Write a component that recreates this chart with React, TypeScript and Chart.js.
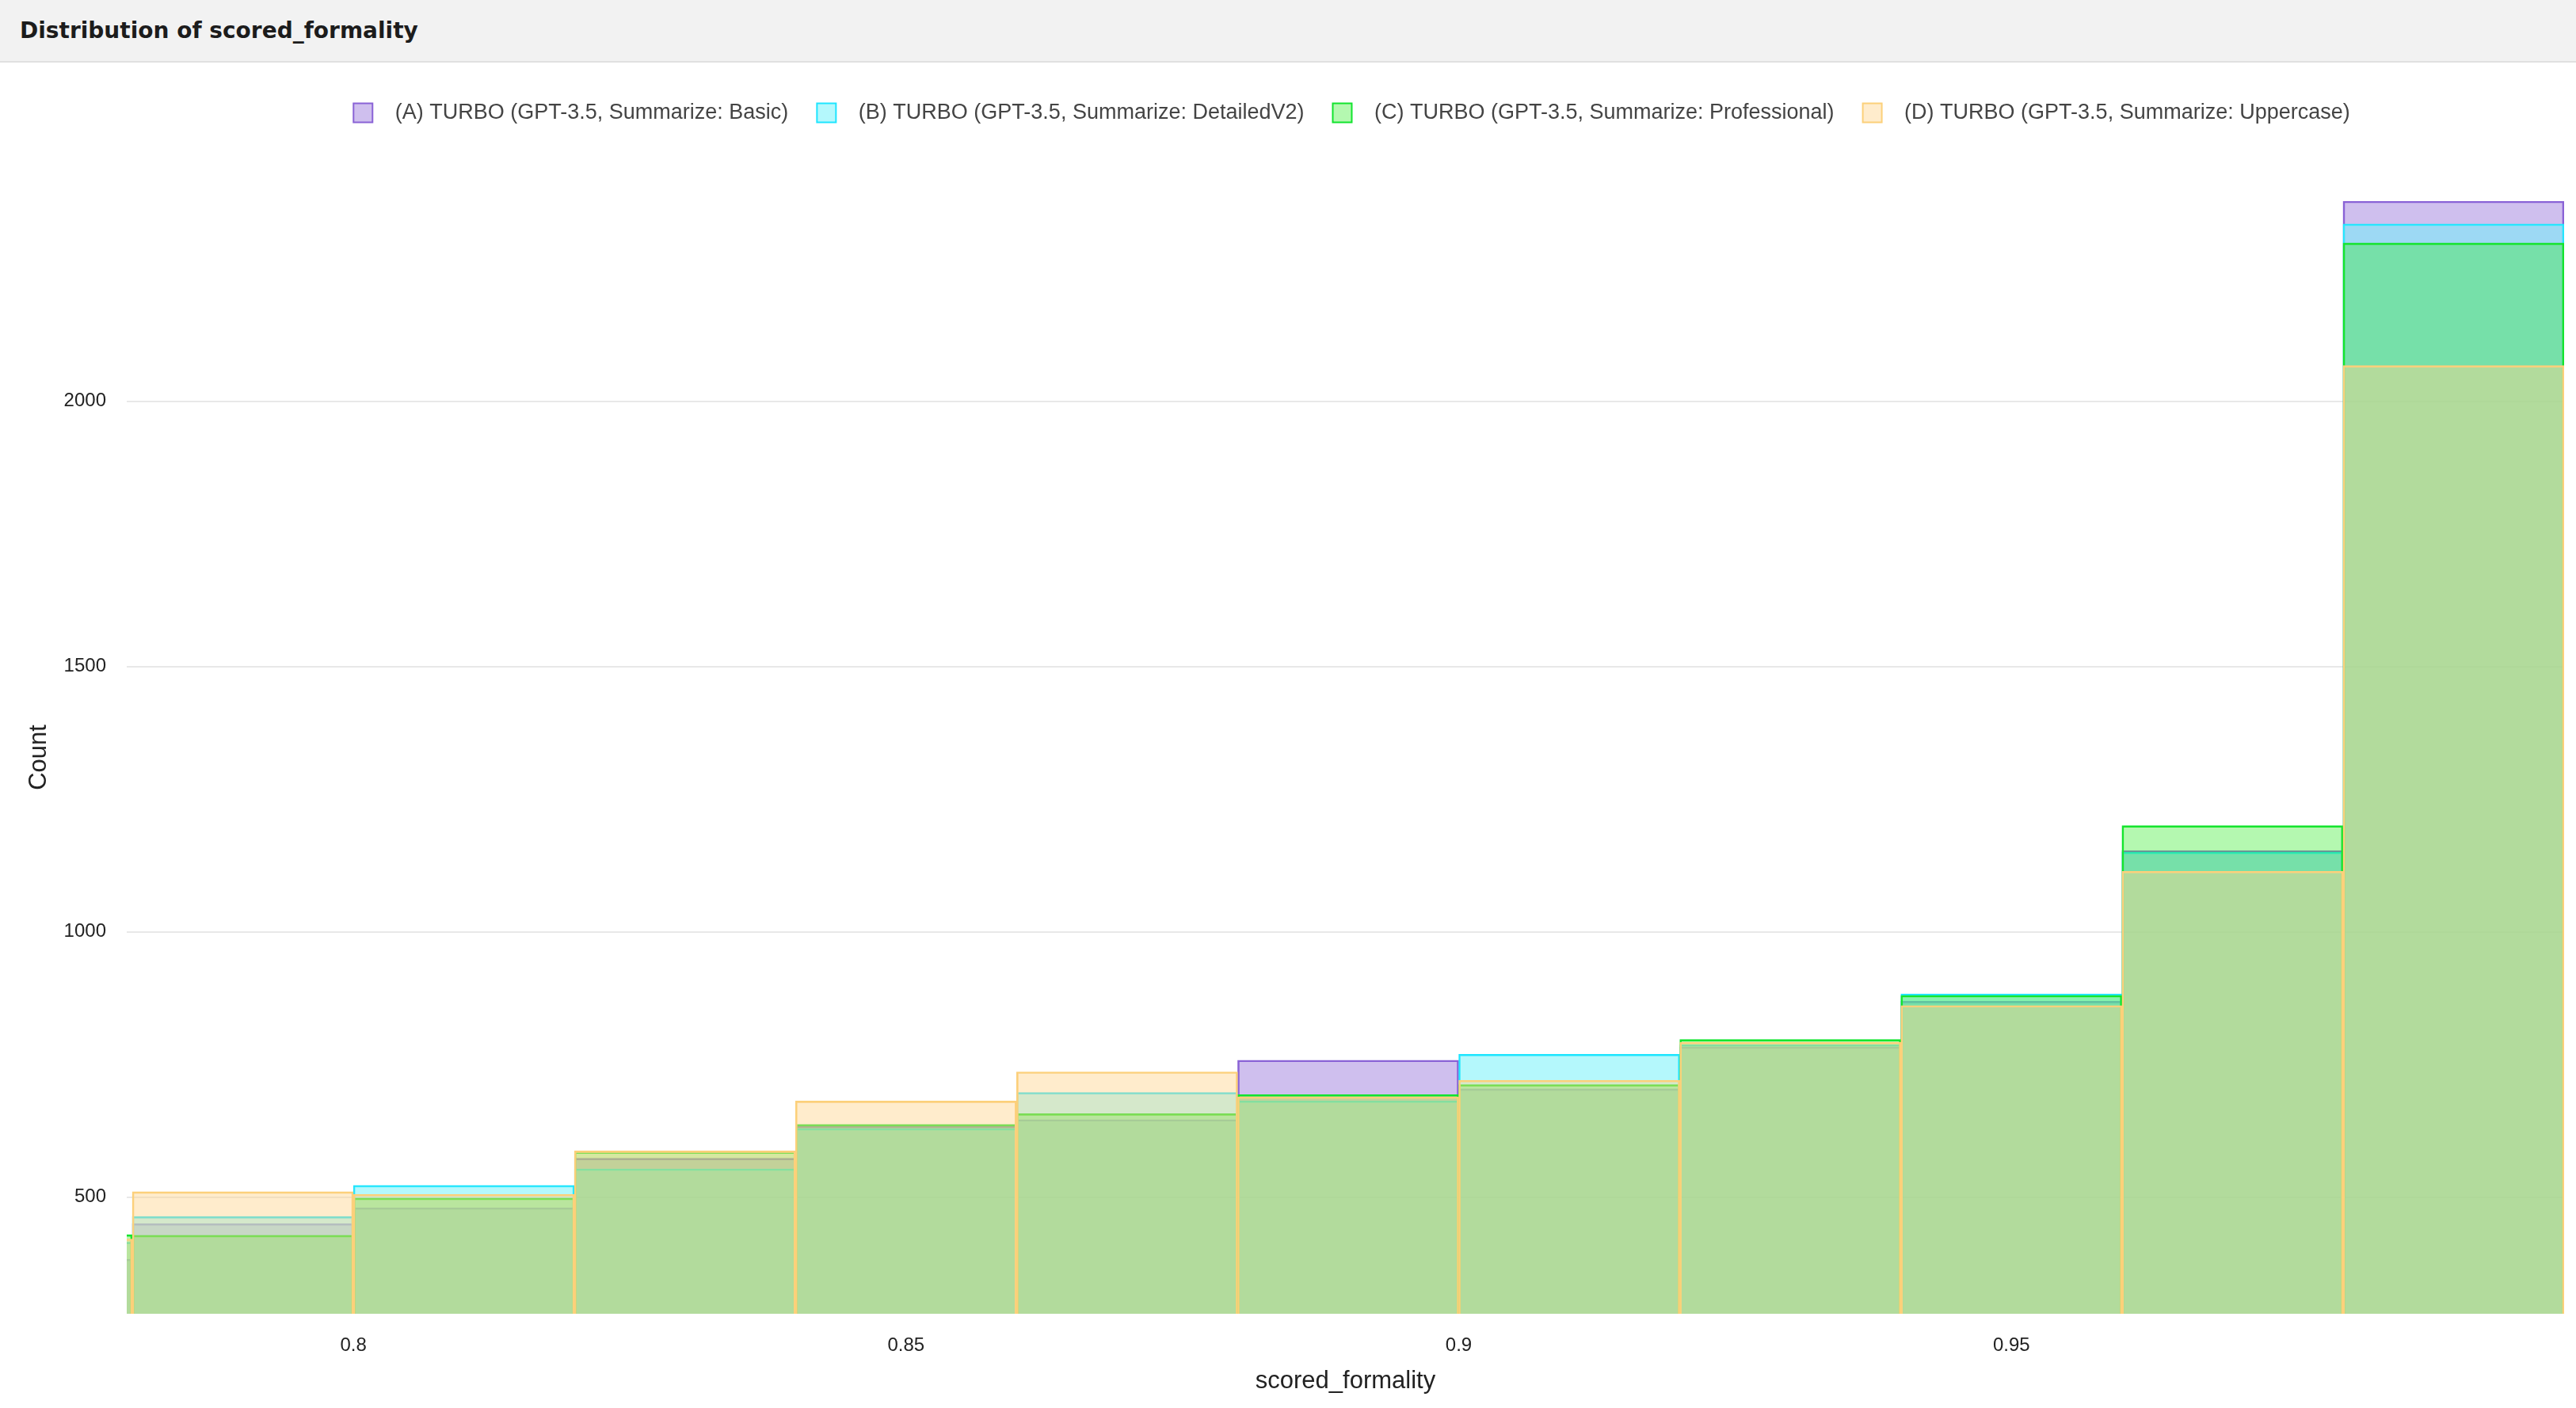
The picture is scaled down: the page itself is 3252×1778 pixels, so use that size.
import { useEffect, useRef } from 'react'
import { Chart, registerables } from 'chart.js'

Chart.register(...registerables)

// bin centres of the 0.02-wide histogram bins
const binCenters = [0.77, 0.79, 0.81, 0.83, 0.85, 0.87, 0.89, 0.91, 0.93, 0.95, 0.97, 0.99]

const basicCounts = [383, 450, 480, 573, 634, 646, 758, 704, 783, 869, 1153, 2377]
const detailedCounts = [415, 463, 522, 553, 629, 697, 681, 769, 787, 883, 1150, 2334]
const professionalCounts = [429, 428, 498, 585, 637, 657, 693, 712, 797, 880, 1200, 2298]
const uppercaseCounts = [421, 510, 505, 587, 681, 736, 689, 720, 792, 861, 1114, 2067]

const seriesLabels = [
  '(A) TURBO (GPT-3.5, Summarize: Basic)',
  '(B) TURBO (GPT-3.5, Summarize: DetailedV2)',
  '(C) TURBO (GPT-3.5, Summarize: Professional)',
  '(D) TURBO (GPT-3.5, Summarize: Uppercase)',
]

const xTicks = [0.8, 0.85, 0.9, 0.95]
const yTicks = [500, 1000, 1500, 2000]

const borderColors = ['rgb(138, 99, 214)', 'rgb(30, 229, 255)', 'rgb(18, 228, 46)', 'rgb(252, 208, 122)']
const fillColors = ['rgba(138, 99, 214, 0.41)', 'rgba(111, 242, 249, 0.52)', 'rgba(51, 236, 40, 0.37)', 'rgba(255, 212, 139, 0.44)']

const LEGEND_GAP = 88
const LEGEND_SHIFT = 8

// push the plot area down below the legend, nudge the legend row a little right
const legendSpacer = {
  id: 'legendSpacer',
  afterInit(chart: any) {
    const legend = chart.legend
    if (!legend) return
    const fit = legend.fit
    legend.fit = function () {
      fit.call(this)
      this.height += LEGEND_GAP
    }
  },
  afterLayout(chart: any) {
    const legend = chart.legend
    if (!legend) return
    legend.left += LEGEND_SHIFT
    legend.right += LEGEND_SHIFT
  },
}

const tickFont = { family: 'Liberation Sans', size: 24 }
const titleFont = { family: 'Liberation Sans', size: 31 }

export default function App() {
  const canvasRef = useRef<HTMLCanvasElement>(null)

  useEffect(() => {
    document.body.style.margin = '0'
    document.body.style.overflow = 'hidden'
    if (!canvasRef.current) return

    const series = [basicCounts, detailedCounts, professionalCounts, uppercaseCounts]

    const chart = new Chart(canvasRef.current, {
      type: 'bar',
      data: {
        datasets: series.map((counts, i) => ({
          label: seriesLabels[i],
          data: counts.map((y, j) => ({ x: binCenters[j], y })),
          backgroundColor: fillColors[i],
          borderColor: borderColors[i],
          borderWidth: 2,
          barPercentage: 1,
          categoryPercentage: 1,
          grouped: false,
          order: series.length - 1 - i,
        })),
      },
      options: {
        animation: false,
        responsive: true,
        maintainAspectRatio: false,
        layout: { padding: { left: 27, right: 15, top: 14, bottom: 11 } },
        plugins: {
          tooltip: { enabled: false },
          legend: {
            position: 'top',
            fullSize: false,
            reverse: true,
            labels: {
              boxWidth: 24,
              boxHeight: 24,
              padding: 36,
              color: '#444',
              font: { family: 'Liberation Sans', size: 27 },
              generateLabels: (c: any) =>
                Chart.defaults.plugins.legend.labels.generateLabels(c).map((item: any) => ({ ...item, text: '  ' + item.text })),
            },
          },
        },
        scales: {
          x: {
            type: 'linear',
            min: 0.7795,
            max: 1.0,
            offset: false,
            grid: { display: false, offset: false, drawTicks: false },
            border: { display: false },
            afterBuildTicks: (scale: any) => { scale.ticks = xTicks.map(value => ({ value })) },
            afterFit: (scale: any) => { scale.height = 108 },
            ticks: {
              padding: 26,
              color: '#222',
              font: tickFont,
              callback: (v: any) => String(v),
            },
            title: {
              display: true,
              text: 'scored_formality',
              color: '#222',
              font: titleFont,
              padding: { top: 13, bottom: 4 },
            },
          },
          y: {
            min: 280,
            max: 2377,
            grid: { color: '#e8e8e8', lineWidth: 2, drawTicks: false },
            border: { display: false },
            afterBuildTicks: (scale: any) => { scale.ticks = yTicks.map(value => ({ value })) },
            afterFit: (scale: any) => { scale.width = 133 },
            ticks: {
              padding: 26,
              color: '#222',
              font: tickFont,
              callback: (v: any) => String(v),
            },
            title: {
              display: true,
              text: 'Count',
              color: '#222',
              font: titleFont,
              padding: { top: 4, bottom: 4 },
            },
          },
        },
      },
      plugins: [legendSpacer],
    } as any)

    return () => { chart.destroy() }
  }, [])

  return (
    <div style={{ width: 3252, height: 1778, background: '#fff' }}>
      <div style={{
        height: 77,
        lineHeight: '77px',
        background: '#f2f2f2',
        borderBottom: '2px solid #e0e0e0',
        paddingLeft: 25,
        fontFamily: 'DejaVu Sans',
        fontWeight: 'bold',
        fontSize: 28,
        color: '#1c1c1c',
      }}>
        Distribution of scored_formality
      </div>
      <div style={{ position: 'relative', width: 3252, height: 1699 }}>
        <canvas ref={canvasRef} />
      </div>
    </div>
  )
}
